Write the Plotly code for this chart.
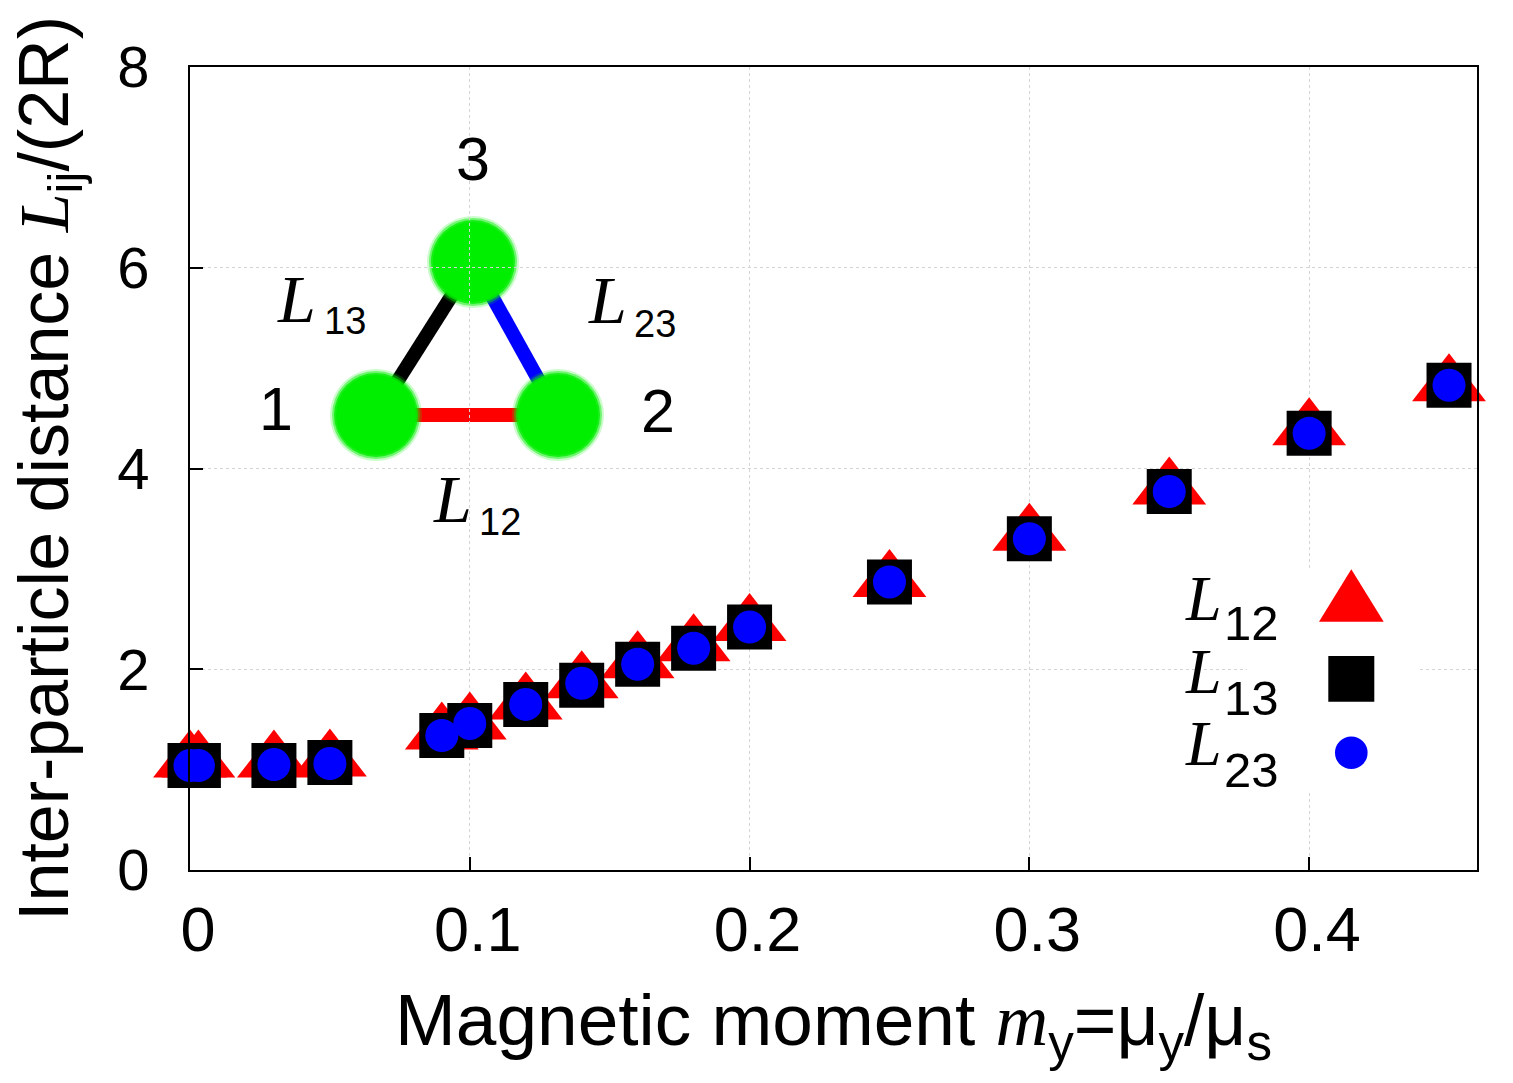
import plotly.graph_objects as go

# ---------------- data ----------------
m_y = [0.0, 0.003, 0.03, 0.05, 0.09, 0.10, 0.12, 0.14, 0.16, 0.18, 0.20, 0.25, 0.30, 0.35, 0.40, 0.45]
L12 = [1.08, 1.08, 1.08, 1.09, 1.36, 1.46, 1.66, 1.87, 2.07, 2.24, 2.44, 2.88, 3.34, 3.80, 4.39, 4.83]
L13 = [1.04, 1.04, 1.04, 1.07, 1.34, 1.44, 1.65, 1.84, 2.05, 2.21, 2.42, 2.87, 3.30, 3.77, 4.35, 4.83]
L23 = [1.04, 1.04, 1.05, 1.06, 1.34, 1.46, 1.65, 1.86, 2.05, 2.21, 2.42, 2.87, 3.30, 3.77, 4.35, 4.83]

x_tickvals = [0, 0.1, 0.2, 0.3, 0.4]
x_ticktext = ["0", "0.1", "0.2", "0.3", "0.4"]
y_tickvals = [0, 2, 4, 6, 8]
y_ticktext = ["0", "2", "4", "6", "8"]

series_names = ["L12", "L13", "L23"]

# ---------------- layout geometry ----------------
W, H = 1513, 1083
ML, MR, MT, MB = 190, 36, 67, 213
PW = W - ML - MR
PH = H - MT - MB

SANS = "Liberation Sans"
SERIF = "Liberation Serif"


def px(x):
    return (x - ML) / PW


def py(y):
    return (H - MB - y) / PH


fig = go.Figure()

fig.add_trace(go.Scatter(
    x=m_y, y=L12, mode="markers", name=series_names[0], cliponaxis=False,
    marker=dict(symbol="triangle-up", size=64, color="#ff0000", line=dict(width=0)),
))
fig.add_trace(go.Scatter(
    x=m_y, y=L13, mode="markers", name=series_names[1], cliponaxis=False,
    marker=dict(symbol="square", size=45, color="#000000", line=dict(width=0)),
))
fig.add_trace(go.Scatter(
    x=m_y, y=L23, mode="markers", name=series_names[2], cliponaxis=False,
    marker=dict(symbol="circle", size=33, color="#0000ff", line=dict(width=0)),
))

shapes = []

# ---- inset sketch of the three particles (drawn beneath the grid) ----
P1 = (376, 415)
P2 = (558, 415)
P3 = (473, 262)
for (a, b, col) in [(P1, P2, "#ff0000"), (P1, P3, "#000000"), (P3, P2, "#0000ff")]:
    shapes.append(dict(type="line", xref="paper", yref="paper", layer="below",
                       x0=px(a[0]), y0=py(a[1]), x1=px(b[0]), y1=py(b[1]),
                       line=dict(color=col, width=14)))
for (cx, cy) in [P1, P2, P3]:
    for r, op in [(46, 0.2), (44, 0.45), (42, 0.8), (40, 1.0)]:
        shapes.append(dict(type="circle", xref="paper", yref="paper", layer="below",
                           x0=px(cx - r), x1=px(cx + r), y0=py(cy + r), y1=py(cy - r),
                           fillcolor="#00ee00", opacity=op, line=dict(width=0)))

# ---- legend box and keys ----
shapes.append(dict(type="rect", xref="paper", yref="paper", layer="above",
                   x0=px(1247), x1=px(1417), y0=py(790), y1=py(570),
                   fillcolor="white", line=dict(width=0)))
tri = "M {:.5f},{:.5f} L {:.5f},{:.5f} L {:.5f},{:.5f} Z".format(
    px(1351.3), py(569.3), px(1319), py(621.7), px(1383.7), py(621.7))
shapes.append(dict(type="path", xref="paper", yref="paper", layer="above", path=tri,
                   fillcolor="#ff0000", line=dict(width=0)))
shapes.append(dict(type="rect", xref="paper", yref="paper", layer="above",
                   x0=px(1328.3), x1=px(1374.3), y0=py(701.7), y1=py(656),
                   fillcolor="#000000", line=dict(width=0)))
shapes.append(dict(type="circle", xref="paper", yref="paper", layer="above",
                   x0=px(1351.3 - 16.3), x1=px(1351.3 + 16.3), y0=py(752.8 + 16.3), y1=py(752.8 - 16.3),
                   fillcolor="#0000ff", line=dict(width=0)))

annotations = []


def ann(x, baseline, text, size, family, xanchor="left", italic=False):
    asc = 0.3375 if family == SERIF else 0.3465
    cy = baseline - asc * size
    t = "<i>" + text + "</i>" if italic else text
    annotations.append(dict(x=px(x), y=py(cy), xref="paper", yref="paper", text=t,
                            showarrow=False, xanchor=xanchor, yanchor="middle",
                            borderpad=0, borderwidth=0,
                            font=dict(family=family, size=size, color="black")))


# legend texts
ann(1185, 620, "L", 64, SERIF, italic=True)
ann(1279, 640, "12", 49, SANS, xanchor="right")
ann(1185, 693, "L", 64, SERIF, italic=True)
ann(1279, 715, "13", 49, SANS, xanchor="right")
ann(1185, 765, "L", 64, SERIF, italic=True)
ann(1279, 786.7, "23", 49, SANS, xanchor="right")

# inset texts
ann(276.5, 321.7, "L", 68, SERIF, italic=True)
ann(366, 334, "13", 38, SANS, xanchor="right")
ann(588, 323.3, "L", 68, SERIF, italic=True)
ann(676, 336.7, "23", 38, SANS, xanchor="right")
ann(432.5, 521.7, "L", 68, SERIF, italic=True)
ann(521, 535, "12", 38, SANS, xanchor="right")
ann(472.5, 180, "3", 61, SANS, xanchor="center")
ann(276.3, 430, "1", 61, SANS, xanchor="center")
ann(657.5, 431.7, "2", 61, SANS, xanchor="center")

fig.update_layout(
    width=W, height=H,
    margin=dict(l=ML, r=MR, t=MT, b=MB, autoexpand=False),
    paper_bgcolor="white",
    plot_bgcolor="rgba(0,0,0,0)",
    showlegend=False,
    shapes=shapes,
    annotations=annotations,
    font=dict(family=SANS, color="black"),
)

fig.update_xaxes(
    range=[0, 0.46], tickvals=x_tickvals, ticktext=x_ticktext,
    tickfont=dict(family=SANS, size=63, color="black"),
    ticks="inside", ticklen=13, tickwidth=2, tickcolor="black",
    ticklabelstandoff=3, ticklabelshift=8,
    showline=True, linecolor="black", linewidth=2, mirror=True,
    showgrid=True, gridcolor="#d4d4d4", gridwidth=1, griddash="3px,3px",
    zeroline=False,
    title=dict(
        text="Magnetic moment <span style=\"font-family:'Liberation Serif'\"><i>m</i></span><sub>y</sub>=μ<sub>y</sub>/μ<sub>s</sub>",
        font=dict(family=SANS, size=73, color="black"), standoff=31),
    automargin=False,
)
fig.update_yaxes(
    range=[0, 8], tickvals=y_tickvals, ticktext=y_ticktext,
    tickfont=dict(family=SANS, size=58, color="black"),
    ticks="inside", ticklen=13, tickwidth=2, tickcolor="black",
    ticklabelstandoff=27,
    showline=True, linecolor="black", linewidth=2, mirror=True,
    showgrid=True, gridcolor="#d4d4d4", gridwidth=1, griddash="3px,3px",
    zeroline=False,
    title=dict(
        text="Inter-particle distance <span style=\"font-family:'Liberation Serif'\"><i>L</i></span><sub>ij</sub>/(2R)",
        font=dict(family=SANS, size=70, color="black"), standoff=26),
    automargin=False,
)

fig.write_html("out.html")
